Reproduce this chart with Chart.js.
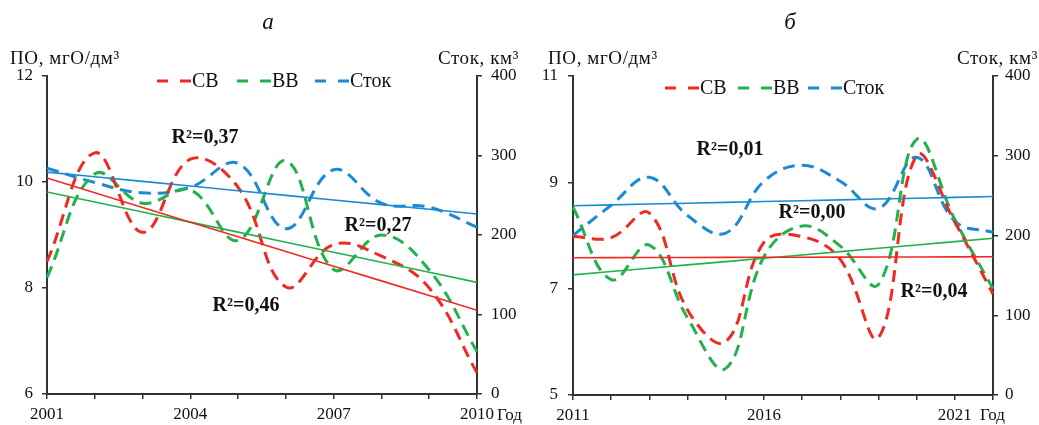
<!DOCTYPE html>
<html><head><meta charset="utf-8">
<script src="https://cdn.jsdelivr.net/npm/chart.js@4.4.1/dist/chart.umd.min.js"></script>
<style>
html,body{margin:0;padding:0;background:#fff;width:1039px;height:425px;overflow:hidden}
#wa{position:absolute;left:0;top:0;width:545px;height:425px}
#wb{position:absolute;left:520px;top:0;width:519px;height:425px}
</style></head><body>
<div id="wa"><canvas id="ca"></canvas></div>
<div id="wb"><canvas id="cb"></canvas></div>
<script>
// ---- data, panel а (2001–2010) ----
const yearsA = [2001,2002,2003,2004,2005,2006,2007,2008,2009,2010];
const labeledYearsA = [2001,2004,2007,2010];
const svA   = [8.5, 10.55, 9.05, 10.43, 9.9, 8.02, 8.82, 8.6, 8.0, 6.4];
const vvA   = [8.2, 10.15, 9.6, 9.85, 8.9, 10.4, 8.35, 9.0, 8.34, 6.8];
const stokA = [284, 266, 253, 260, 290, 208, 282, 240, 235, 210];
const r2A   = ['R²=0,37', 'R²=0,27', 'R²=0,46'];
// ---- data, panel б (2011–2022) ----
const yearsB = [2011,2012,2013,2014,2015,2016,2017,2018,2019,2020,2021,2022];
const labeledYearsB = [2011,2016,2021];
const svB   = [7.98, 7.96, 8.42, 6.6, 6.0, 7.87, 7.98, 7.55, 6.08, 9.5, 8.25, 6.9];
const vvB   = [8.53, 7.17, 7.82, 6.45, 5.5, 7.6, 8.18, 7.8, 7.08, 9.81, 8.3, 7.0];
const stokB = [200, 238, 273, 225, 203, 268, 288, 268, 234, 298, 218, 204];
const r2B   = ['R²=0,01', 'R²=0,00', 'R²=0,04'];
// axis ranges
const poRangeA = [6, 12], poRangeB = [5, 11], stokRange = [0, 400];
const seriesNames = ['СВ', 'ВВ', 'Сток'];

const RED = '#ef2a22', GREEN = '#22b14c', BLUE = '#1a8ad4';
const SERIF = "'Liberation Serif', 'Times New Roman', serif";

function linFit(v) {
  const n = v.length; let sx=0, sy=0, sxx=0, sxy=0;
  v.forEach((y,i)=>{sx+=i; sy+=y; sxx+=i*i; sxy+=i*y;});
  const b = (n*sxy - sx*sy)/(n*sxx - sx*sx), a = (sy - b*sx)/n;
  return v.map((_,i)=>a+b*i);
}

const decoPlugin = {
  id: 'deco',
  afterDraw(chart, args, o) {
    const ctx = chart.ctx;
    ctx.save();
    ctx.fillStyle = '#111';
    ctx.textBaseline = 'middle';
    // panel letter
    ctx.font = 'italic 23px ' + SERIF;
    ctx.textAlign = 'center';
    ctx.fillText(o.letter, o.letterX, 23);
    // axis titles
    ctx.font = '19px ' + SERIF;
    if ('letterSpacing' in ctx) ctx.letterSpacing = '0.6px';
    ctx.textAlign = 'left';
    ctx.fillText('ПО, мгО/дм³', o.leftTitleX, 59);
    ctx.textAlign = 'right';
    ctx.fillText('Сток, км³', o.rightTitleX, 59);
    if ('letterSpacing' in ctx) ctx.letterSpacing = '0px';
    // "Год"
    ctx.font = '17px ' + SERIF;
    ctx.textAlign = 'left';
    ctx.fillText('Год', o.godX, 416);
    // legend
    const ds = chart.data.datasets.filter(d => !d.isTrend);
    ctx.font = '20px ' + SERIF;
    ds.forEach((d, i) => {
      const x = o.legendX[i];
      ctx.save();
      ctx.strokeStyle = d.borderColor;
      ctx.lineWidth = 3;
      ctx.setLineDash([11, 12]);
      ctx.beginPath(); ctx.moveTo(x, o.legendY); ctx.lineTo(x + 34, o.legendY); ctx.stroke();
      ctx.restore();
      ctx.fillStyle = '#111';
      ctx.textAlign = 'left';
      ctx.fillText(d.label, x + 35, o.legendY + 1);
    });
    // R² labels
    ctx.font = 'bold 20px ' + SERIF;
    ctx.textAlign = 'center';
    o.r2.forEach((t, i) => ctx.fillText(t, o.r2pos[i][0], o.r2pos[i][1]));
    ctx.restore();
  }
};

function makeChart(id, years, labeled, sv, vv, stok, poRange, sizes, deco) {
  const tickFont = {family: SERIF, size: 17};
  const dashed = (label, data, color, axis) => ({
    label, data, borderColor: color, backgroundColor: color, yAxisID: axis,
    borderWidth: 3, borderDash: [12, 7], tension: 0.4, pointRadius: 0, fill: false, order: 2
  });
  const trend = (data, color, axis) => ({
    label: 'trend', isTrend: true, data: linFit(data), borderColor: color, yAxisID: axis,
    borderWidth: 1.6, tension: 0, pointRadius: 0, fill: false, order: 1
  });
  const gridOpts = {display: true, drawOnChartArea: false, drawTicks: true, tickLength: 5, color: '#333', lineWidth: 1.5};
  const borderOpts = {display: true, color: '#333', width: 2};
  return new Chart(document.getElementById(id), {
    type: 'line',
    data: {
      labels: years,
      datasets: [
        dashed(seriesNames[0], sv, RED, 'y'),
        dashed(seriesNames[1], vv, GREEN, 'y'),
        dashed(seriesNames[2], stok, BLUE, 'y1'),
        trend(sv, RED, 'y'),
        trend(vv, GREEN, 'y'),
        trend(stok, BLUE, 'y1')
      ]
    },
    plugins: [decoPlugin],
    options: {
      responsive: true, maintainAspectRatio: false, animation: false, devicePixelRatio: 1,
      layout: {padding: {top: 76, left: 0, right: 0, bottom: 0}},
      plugins: {legend: {display: false}, tooltip: {enabled: false}, title: {display: false}, deco},
      scales: {
        x: {
          type: 'category', offset: false,
          grid: gridOpts, border: borderOpts,
          ticks: {autoSkip: false, maxRotation: 0, color: '#111', font: tickFont, padding: 5,
            callback(v) { const y = this.getLabelForValue(v); return labeled.includes(+y) ? String(y) : ''; }},
          afterFit(s) { s.height = sizes.xh; }
        },
        y: {
          position: 'left', min: poRange[0], max: poRange[1],
          grid: gridOpts, border: borderOpts,
          ticks: {stepSize: 2, color: '#111', font: tickFont, padding: sizes.lp},
          afterFit(s) { s.width = sizes.lw; }
        },
        y1: {
          position: 'right', min: stokRange[0], max: stokRange[1],
          grid: gridOpts, border: borderOpts,
          ticks: {stepSize: 100, color: '#111', font: tickFont, padding: sizes.rp},
          afterFit(s) { s.width = sizes.rw; }
        }
      }
    }
  });
}

makeChart('ca', yearsA, labeledYearsA, svA, vvA, stokA, poRangeA,
  {xh: 31, lw: 47, rw: 68, lp: 9, rp: 9},
  {letter: 'а', letterX: 268, leftTitleX: 10, rightTitleX: 519, godX: 497,
   legendX: [157, 237, 315], legendY: 81,
   r2: r2A, r2pos: [[205, 138], [378, 226], [246, 306]]});

makeChart('cb', yearsB, labeledYearsB, svB, vvB, stokB, poRangeB,
  {xh: 30, lw: 53, rw: 46, lp: 10, rp: 7},
  {letter: 'б', letterX: 270, leftTitleX: 28, rightTitleX: 518, godX: 460,
   legendX: [145, 218, 288], legendY: 88,
   r2: r2B, r2pos: [[210, 150], [292, 213], [414, 292]]});
</script>
</body></html>
